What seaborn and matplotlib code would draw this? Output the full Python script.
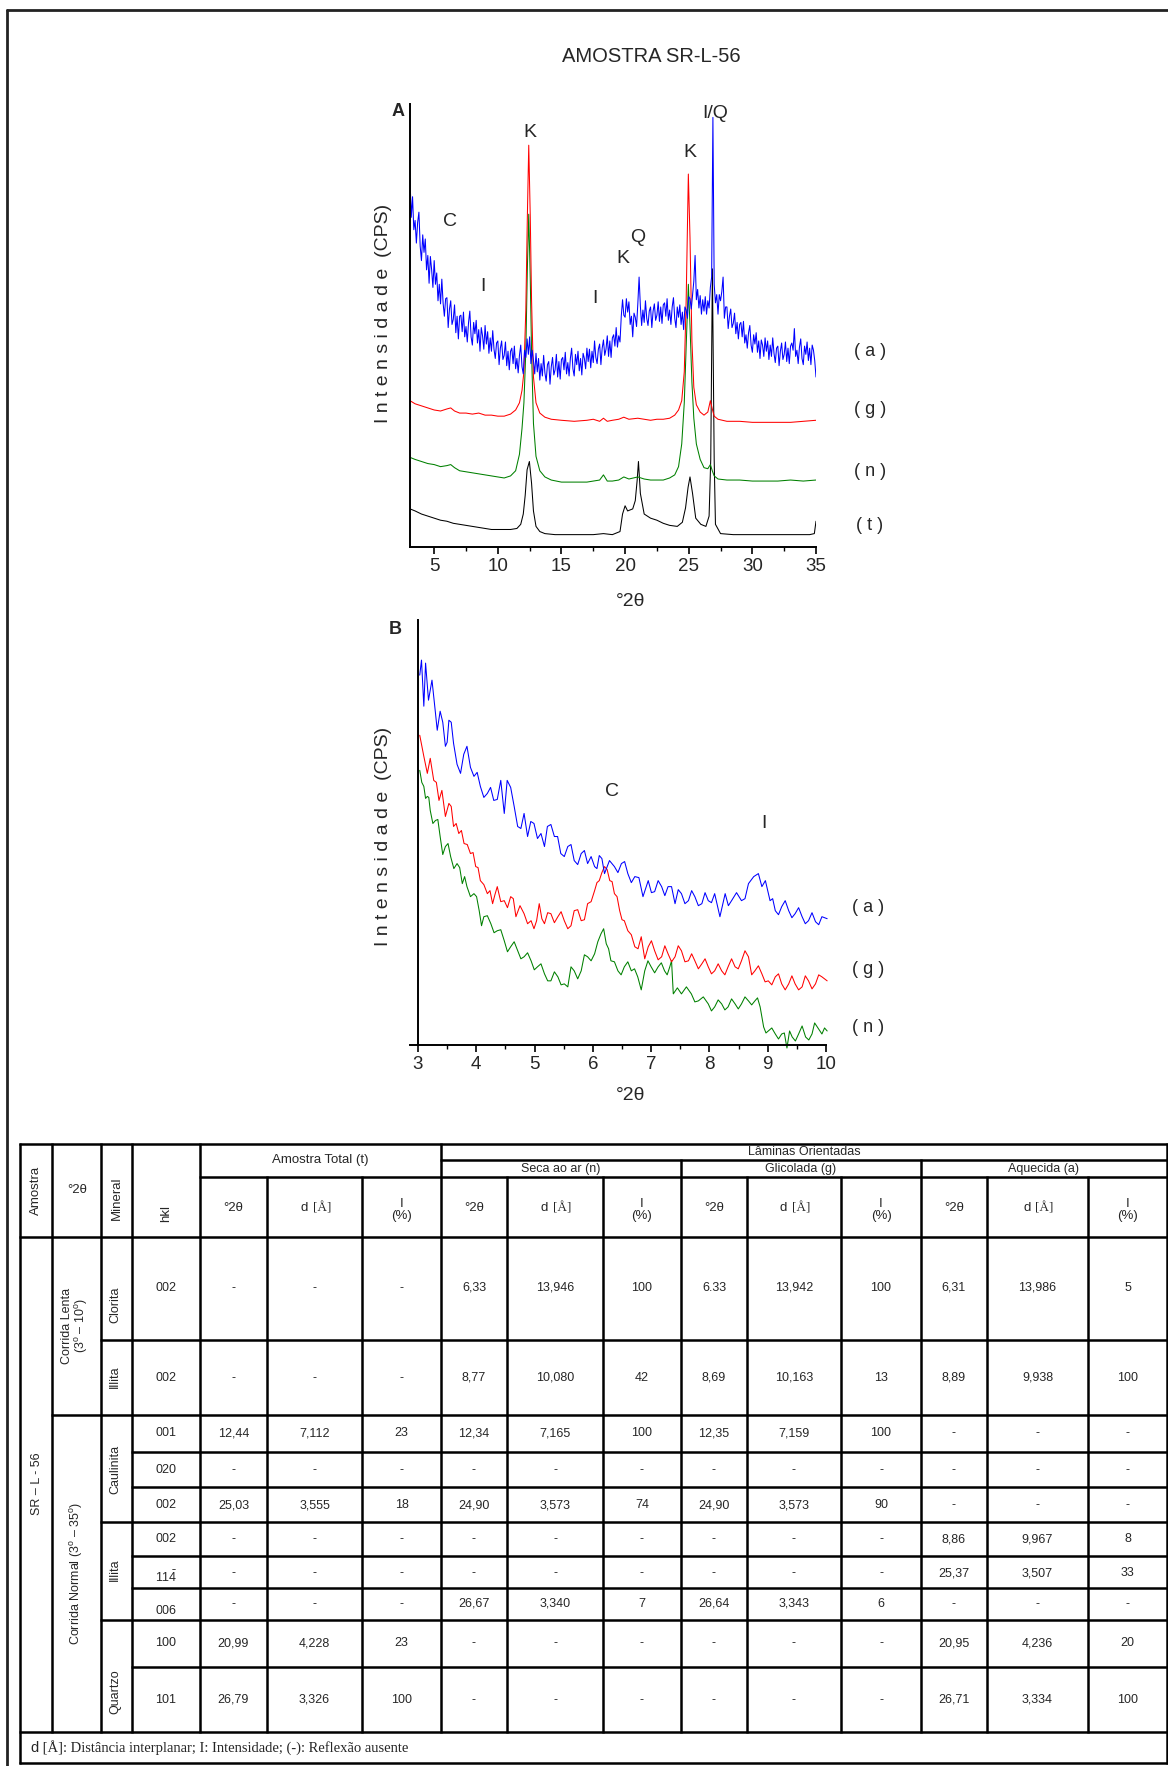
import numpy as np
import pandas as pd
import matplotlib
matplotlib.use("Agg")
import matplotlib.pyplot as plt
import seaborn as sns

# ---------------- DATA ----------------
# Panel A (3-35 deg 2theta) : t = amostra total, n = seca ao ar, g = glicolada, a = aquecida
theta_t_A = [3.1, 3.5, 4.0, 4.5, 5.0, 5.5, 6.0, 6.5, 7.0, 7.5, 8.0, 8.5, 9.0, 9.5, 10.0, 10.5, 11.0, 11.5, 11.8, 12.0,
             12.15, 12.3, 12.48, 12.65, 12.8, 13.0, 13.3, 13.7, 14.5, 15.5, 16.5, 17.5, 18.3, 19.0, 19.6, 19.8, 20.0, 20.2,
             20.4, 20.6, 20.8, 20.95, 21.05, 21.2, 21.5, 22.0, 22.5, 23.0, 23.5, 24.1, 24.5, 24.75, 24.95, 25.1, 25.3,
             25.55, 25.95, 26.35, 26.6, 26.73, 26.86, 27.0, 27.1, 27.5, 28.5, 29.5, 30.5, 31.5, 32.5, 33.5, 34.5, 34.87, 35.0]
int_t_A = [37, 35, 32, 30, 28, 26, 25, 23, 22, 21, 20, 19, 18, 17, 17, 17, 17, 18, 22, 32,
           50, 75, 83, 62, 35, 20, 15, 13, 12, 12, 12, 12, 13, 12, 15, 32, 40, 35, 36, 37,
           45, 65, 83, 52, 32, 28, 26, 23, 21, 20, 24, 38, 58, 68, 52, 28, 22, 20, 30, 85,
           270, 85, 22, 13, 12, 12, 12, 12, 12, 12, 12, 13, 25]

theta_ng_A = [3.1, 3.5, 4.0, 4.5, 5.0, 5.5, 6.0, 6.3, 6.6, 7.0, 7.5, 8.0, 8.5, 9.0, 9.5, 10.0, 10.5, 11.0, 11.4, 11.7,
              11.9, 12.05, 12.2, 12.32, 12.43, 12.55, 12.65, 12.8, 13.0, 13.3, 13.7, 14.2, 15.0, 16.0, 17.0, 17.5, 18.0,
              18.3, 18.6, 19.0, 19.5, 19.9, 20.3, 21.0, 21.5, 22.0, 22.5, 23.0, 23.5, 23.9, 24.2, 24.45, 24.65, 24.8,
              24.97, 25.1, 25.25, 25.4, 25.6, 25.9, 26.2, 26.5, 26.7, 26.85, 27.0, 27.3, 28.0, 29.0, 30.0, 31.0, 32.0,
              33.0, 34.0, 35.0]
int_n_A = [87, 85, 83, 81, 80, 78, 79, 80, 77, 74, 73, 72, 71, 70, 69, 68, 67, 69, 74, 90,
           115, 140, 190, 270, 323, 260, 190, 120, 88, 74, 68, 65, 63, 63, 63, 64, 65, 70, 64, 64,
           65, 68, 66, 68, 66, 65, 65, 65, 67, 70, 78, 100, 140, 195, 255, 215, 160, 125, 100, 85,
           77, 76, 80, 74, 69, 66, 65, 65, 64, 64, 64, 65, 64, 65]
int_g_A = [142, 139, 137, 135, 133, 132, 134, 135, 132, 130, 130, 129, 130, 128, 128, 127, 127, 129, 133, 140,
           152, 170, 230, 320, 390, 320, 240, 165, 140, 130, 126, 124, 123, 122, 123, 124, 122, 125, 122, 123,
           124, 126, 124, 125, 124, 123, 124, 124, 125, 128, 133, 142, 170, 240, 362, 300, 200, 155, 138, 131,
           128, 131, 142, 134, 127, 124, 122, 122, 121, 121, 121, 121, 122, 123]

# aquecida (a), read every 0.1 deg from 3.1 to 35.0
theta_a_A = np.round(np.linspace(3.1, 35.0, 320), 2)
int_a_A = [358, 320, 340, 308, 317, 295, 315, 325, 292, 278, 303, 286, 299, 269, 283, 256, 282, 269, 252, 278,
           255, 266, 239, 255, 236, 260, 237, 224, 241, 242, 213, 231, 239, 216, 221, 235, 208, 224, 202, 224,
           225, 209, 228, 204, 214, 199, 218, 229, 204, 196, 218, 207, 220, 198, 211, 190, 213, 205, 192, 215,
           197, 209, 188, 203, 190, 210, 192, 183, 198, 200, 177, 193, 200, 182, 186, 199, 176, 190, 172, 190,
           193, 178, 195, 173, 183, 169, 186, 196, 175, 168, 191, 184, 202, 187, 204, 178, 191, 181, 168, 188,
           170, 183, 162, 178, 166, 186, 169, 161, 177, 180, 158, 175, 184, 167, 172, 187, 165, 180, 163, 182,
           184, 172, 189, 168, 179, 166, 183, 193, 173, 166, 187, 177, 190, 171, 183, 167, 188, 183, 173, 193,
           180, 192, 174, 190, 179, 200, 184, 178, 192, 197, 177, 193, 201, 186, 192, 205, 185, 200, 184, 203,
           206, 195, 213, 194, 205, 199, 224, 240, 225, 223, 241, 228, 238, 216, 224, 204, 227, 223, 214, 236,
           262, 234, 215, 230, 218, 239, 222, 215, 229, 233, 213, 229, 236, 220, 225, 238, 219, 233, 217, 235,
           237, 224, 241, 220, 230, 216, 233, 242, 222, 213, 233, 223, 235, 216, 228, 211, 233, 230, 222, 243,
           241, 231, 245, 258, 283, 240, 250, 232, 244, 226, 240, 229, 243, 226, 239, 232, 252, 262, 417, 255,
           237, 245, 226, 245, 239, 248, 262, 222, 233, 233, 212, 224, 231, 213, 217, 227, 207, 218, 202, 216,
           218, 204, 219, 198, 206, 193, 208, 215, 196, 189, 206, 197, 208, 189, 200, 183, 201, 196, 185, 203,
           190, 200, 182, 196, 185, 203, 188, 179, 193, 195, 176, 190, 198, 182, 187, 199, 180, 193, 178, 195,
           198, 191, 212, 185, 191, 178, 194, 202, 183, 177, 195, 187, 199, 181, 193, 177, 196, 191, 181, 165]

# Panel B (3-10 deg 2theta, corrida lenta)
theta_a_B = [3.03, 3.06, 3.10, 3.13, 3.18, 3.24, 3.30, 3.33, 3.38, 3.425, 3.47, 3.50, 3.53, 3.57, 3.61, 3.67, 3.73,
             3.785, 3.84, 3.90, 3.96, 4.015, 4.07, 4.13, 4.19, 4.245, 4.30, 4.36, 4.42, 4.48, 4.53, 4.59, 4.65, 4.71,
             4.765, 4.82, 4.88, 4.935, 4.99, 5.05, 5.11, 5.17, 5.22, 5.28, 5.34, 5.395, 5.45, 5.51, 5.57, 5.625, 5.68,
             5.74, 5.80, 5.855, 5.91, 5.97, 6.03, 6.07, 6.11, 6.155, 6.20, 6.285, 6.37, 6.43, 6.49, 6.545, 6.60, 6.66,
             6.72, 6.79, 6.86, 6.95, 7.005, 7.06, 7.12, 7.18, 7.235, 7.29, 7.35, 7.41, 7.465, 7.52, 7.58, 7.64, 7.695,
             7.75, 7.81, 7.87, 7.925, 7.98, 8.035, 8.09, 8.18, 8.27, 8.325, 8.38, 8.465, 8.55, 8.61, 8.67, 8.76, 8.84,
             8.90, 8.96, 9.04, 9.085, 9.13, 9.185, 9.24, 9.30, 9.36, 9.415, 9.47, 9.53, 9.59, 9.645, 9.70, 9.76, 9.82,
             9.875, 9.93, 10.02]
int_a_B = [369, 384, 338, 381, 344, 364, 331, 314, 333, 322, 298, 302, 324, 322, 301, 280, 271, 290, 298, 277,
           268, 272, 258, 247, 251, 257, 244, 245, 264, 231, 264, 257, 238, 218, 216, 231, 208, 223, 221, 206,
           211, 198, 218, 220, 208, 208, 191, 188, 198, 200, 184, 180, 191, 194, 181, 188, 178, 176, 189, 186,
           171, 184, 178, 172, 181, 183, 171, 162, 168, 167, 148, 164, 152, 153, 164, 158, 149, 158, 158, 141,
           155, 151, 141, 144, 154, 148, 139, 141, 152, 144, 142, 151, 128, 151, 139, 144, 152, 144, 146, 161,
           168, 171, 158, 164, 144, 146, 134, 130, 138, 144, 134, 127, 131, 137, 128, 121, 124, 132, 123, 120,
           128, 126]
theta_g_B = [3.03, 3.10, 3.16, 3.21, 3.27, 3.315, 3.36, 3.41, 3.47, 3.53, 3.57, 3.61, 3.655, 3.70, 3.745, 3.79,
             3.845, 3.90, 3.945, 3.99, 4.03, 4.07, 4.13, 4.19, 4.235, 4.28, 4.32, 4.36, 4.42, 4.48, 4.535, 4.59, 4.635,
             4.68, 4.75, 4.82, 4.88, 4.94, 4.99, 5.035, 5.08, 5.125, 5.17, 5.225, 5.28, 5.34, 5.40, 5.455, 5.51, 5.57,
             5.625, 5.68, 5.74, 5.80, 5.855, 5.91, 5.97, 6.03, 6.07, 6.11, 6.155, 6.20, 6.245, 6.29, 6.33, 6.37, 6.415,
             6.46, 6.50, 6.54, 6.60, 6.66, 6.72, 6.775, 6.83, 6.89, 6.95, 7.005, 7.06, 7.12, 7.18, 7.235, 7.29, 7.35,
             7.41, 7.465, 7.52, 7.58, 7.64, 7.695, 7.75, 7.81, 7.87, 7.925, 7.98, 8.035, 8.09, 8.15, 8.21, 8.265, 8.32,
             8.38, 8.44, 8.495, 8.55, 8.61, 8.67, 8.725, 8.78, 8.84, 8.90, 8.955, 9.01, 9.07, 9.13, 9.185, 9.24, 9.30,
             9.36, 9.415, 9.47, 9.53, 9.59, 9.645, 9.70, 9.76, 9.82, 9.875, 9.93, 10.02]
int_g_B = [309, 288, 271, 286, 264, 262, 244, 254, 228, 241, 238, 218, 221, 211, 214, 201, 200, 191, 192, 178,
           177, 164, 160, 151, 154, 141, 150, 158, 143, 144, 137, 148, 146, 128, 139, 131, 121, 124, 116, 124,
           141, 126, 121, 132, 131, 122, 128, 133, 124, 116, 119, 134, 135, 124, 125, 141, 143, 154, 162, 164,
           172, 178, 175, 164, 163, 151, 148, 134, 125, 124, 114, 110, 98, 96, 108, 86, 98, 104, 94, 85,
           88, 99, 91, 83, 88, 99, 94, 83, 84, 91, 84, 76, 81, 86, 78, 71, 74, 81, 74, 70,
           78, 86, 78, 76, 84, 94, 88, 70, 74, 79, 71, 63, 64, 60, 68, 71, 61, 55, 61, 69,
           61, 55, 58, 69, 64, 56, 61, 70, 68, 64]
theta_n_B = [3.03, 3.065, 3.10, 3.13, 3.16, 3.185, 3.21, 3.255, 3.30, 3.34, 3.38, 3.425, 3.47, 3.515, 3.56, 3.615,
             3.67, 3.715, 3.76, 3.80, 3.84, 3.90, 3.96, 4.005, 4.05, 4.09, 4.13, 4.19, 4.25, 4.305, 4.36, 4.42, 4.48,
             4.535, 4.59, 4.65, 4.71, 4.765, 4.82, 4.88, 4.94, 4.995, 5.05, 5.11, 5.17, 5.225, 5.28, 5.34, 5.40, 5.455,
             5.51, 5.57, 5.625, 5.68, 5.74, 5.80, 5.855, 5.91, 5.97, 6.03, 6.085, 6.14, 6.185, 6.23, 6.27, 6.31, 6.37,
             6.43, 6.485, 6.54, 6.60, 6.66, 6.715, 6.77, 6.83, 6.89, 6.945, 7.00, 7.06, 7.12, 7.175, 7.23, 7.275, 7.32,
             7.35, 7.38, 7.45, 7.52, 7.605, 7.69, 7.75, 7.81, 7.895, 7.98, 8.035, 8.09, 8.15, 8.21, 8.265, 8.32, 8.38,
             8.44, 8.495, 8.55, 8.61, 8.67, 8.725, 8.78, 8.825, 8.87, 8.93, 8.97, 9.01, 9.07, 9.13, 9.185, 9.24, 9.285,
             9.33, 9.375, 9.42, 9.475, 9.53, 9.59, 9.65, 9.705, 9.76, 9.805, 9.85, 9.93, 9.975, 10.02]
int_n_B = [274, 262, 258, 246, 248, 247, 234, 221, 224, 225, 208, 190, 198, 201, 188, 176, 181, 177, 161, 168,
           158, 148, 151, 148, 134, 119, 128, 129, 121, 112, 114, 115, 104, 93, 98, 103, 94, 86, 88, 92,
           84, 75, 78, 81, 71, 64, 64, 73, 68, 60, 61, 58, 78, 74, 66, 74, 90, 88, 84, 91,
           103, 111, 116, 101, 96, 84, 83, 74, 70, 78, 83, 74, 76, 68, 55, 74, 84, 78, 72, 78,
           82, 74, 70, 78, 84, 51, 57, 51, 58, 51, 43, 44, 48, 41, 34, 38, 45, 41, 35, 38,
           46, 41, 36, 41, 48, 44, 40, 44, 47, 38, 18, 12, 14, 17, 11, 6, 11, 12, -3, 14,
           8, 4, 11, 19, 8, 5, 11, 22, 18, 11, 17, 14]

# peak annotations (label, 2theta, intensity)
peaks_A = [("K", 12.5, 402), ("I/Q", 27.08, 421), ("K", 25.1, 383), ("C", 6.26, 316), ("Q", 20.96, 300),
           ("K", 19.85, 280), ("I", 8.83, 253), ("I", 17.63, 241)]
peaks_B = [("C", 6.33, 253), ("I", 8.93, 221)]
curve_labels_A = ["( a )", "( g )", "( n )", "( t )"]
curve_labels_B = ["( a )", "( g )", "( n )"]
ticks_A = [5, 10, 15, 20, 25, 30, 35]
ticks_B = [3, 4, 5, 6, 7, 8, 9, 10]

# Table
hkl = ["002", "002", "001", "020", "002", "002", "11$\\bar{4}$", "006", "100", "101"]
t_2theta = ["-", "-", "12,44", "-", "25,03", "-", "-", "-", "20,99", "26,79"]
t_d = ["-", "-", "7,112", "-", "3,555", "-", "-", "-", "4,228", "3,326"]
t_I = ["-", "-", "23", "-", "18", "-", "-", "-", "23", "100"]
n_2theta = ["6,33", "8,77", "12,34", "-", "24,90", "-", "-", "26,67", "-", "-"]
n_d = ["13,946", "10,080", "7,165", "-", "3,573", "-", "-", "3,340", "-", "-"]
n_I = ["100", "42", "100", "-", "74", "-", "-", "7", "-", "-"]
g_2theta = ["6.33", "8,69", "12,35", "-", "24,90", "-", "-", "26,64", "-", "-"]
g_d = ["13,942", "10,163", "7,159", "-", "3,573", "-", "-", "3,343", "-", "-"]
g_I = ["100", "13", "100", "-", "90", "-", "-", "6", "-", "-"]
a_2theta = ["6,31", "8,89", "-", "-", "-", "8,86", "25,37", "-", "20,95", "26,71"]
a_d = ["13,986", "9,938", "-", "-", "-", "9,967", "3,507", "-", "4,236", "3,334"]
a_I = ["5", "100", "-", "-", "-", "8", "33", "-", "20", "100"]
minerals = ["Clorita", "Illita", "Caulinita", "Illita", "Quartzo"]
footnote = " [Å]: Distância interplanar; I: Intensidade; (-): Reflexão ausente"

# ---------------- STYLE ----------------
sns.set_theme(style="white")
plt.rcParams['font.family'] = ['Liberation Sans', 'DejaVu Sans']
plt.rcParams['mathtext.fontset'] = 'custom'
plt.rcParams['mathtext.rm'] = 'Liberation Sans'
plt.rcParams['mathtext.it'] = 'Liberation Sans'

W, H = 1168, 1766
fig = plt.figure(figsize=(W / 100, H / 100), dpi=100)
fig.patch.set_facecolor("white")


def rect(l, t, r, b):
    return [l / W, 1 - b / H, (r - l) / W, (b - t) / H]


ov = fig.add_axes([0, 0, 1, 1], zorder=0)
ov.set_xlim(0, W)
ov.set_ylim(H, 0)
ov.axis("off")

pal = {"t": "black", "n": "#008000", "g": "#ff0000", "a": "#0000ff"}


def make_df(parts):
    frames = []
    for nm, th, it in parts:
        n = min(len(th), len(it))
        frames.append(pd.DataFrame({"theta": list(th)[:n], "I": list(it)[:n], "amostra": nm}))
    return pd.concat(frames, ignore_index=True)


def style_axis(ax):
    for s in ["top", "right"]:
        ax.spines[s].set_visible(False)
    for s in ["left", "bottom"]:
        ax.spines[s].set_color("black")
        ax.spines[s].set_linewidth(1.4)
    ax.set_facecolor("none")
    ax.tick_params(axis="x", which="major", bottom=True, direction="out", length=5, width=1.2,
                   color="black", labelsize=13.5, pad=3)
    ax.tick_params(axis="x", which="minor", bottom=True, direction="out", length=3, width=1.0, color="black")
    ax.tick_params(axis="y", which="both", left=False, labelleft=False)
    ax.set_xlabel("")
    ax.set_ylabel("")


# ---------------- PANEL A ----------------
axA = fig.add_axes(rect(410, 104, 816, 547), zorder=2)
dfA = make_df([("t", theta_t_A, int_t_A), ("n", theta_ng_A, int_n_A),
               ("g", theta_ng_A, int_g_A), ("a", theta_a_A, int_a_A)])
sns.lineplot(data=dfA, x="theta", y="I", hue="amostra", hue_order=["t", "n", "g", "a"], palette=pal,
             estimator=None, sort=False, lw=0.75, legend=False, ax=axA)
axA.set_xlim(3.1, 35)
axA.set_ylim(0, 430)
axA.set_xticks(ticks_A)
axA.set_xticks([t + 2.5 for t in ticks_A[:-1]], minor=True)
style_axis(axA)
for lab, x, y in peaks_A:
    axA.text(x, y, lab, ha="center", va="center", fontsize=14)

# ---------------- PANEL B ----------------
axB = fig.add_axes(rect(410, 620, 826, 1045), zorder=2)
dfB = make_df([("n", theta_n_B, int_n_B), ("g", theta_g_B, int_g_B), ("a", theta_a_B, int_a_B)])
sns.lineplot(data=dfB, x="theta", y="I", hue="amostra", hue_order=["n", "g", "a"], palette=pal,
             estimator=None, sort=False, lw=0.75, legend=False, ax=axB)
axB.set_xlim(3 - 8 / 58.3, 10)
axB.set_ylim(0, 424)
axB.spines["left"].set_position(("data", 3))
axB.set_xticks(ticks_B)
axB.set_xticks([t + 0.5 for t in ticks_B[:-1]], minor=True)
style_axis(axB)
for ln in axB.lines:
    ln.set_clip_on(False)
for lab, x, y in peaks_B:
    axB.text(x, y, lab, ha="center", va="center", fontsize=14)

# ---------------- FIGURE TEXT ----------------
ov.plot([7, 7], [10, H], color="#222222", lw=2)
ov.plot([7, W], [10, 10], color="#222222", lw=2)
ov.text(651, 56, "AMOSTRA SR-L-56", ha="center", va="center", fontsize=14.5)
ov.text(398, 111, "A", ha="center", va="center", fontsize=13, fontweight="bold")
ov.text(395, 629, "B", ha="center", va="center", fontsize=13, fontweight="bold")
ylab = "I n t e n s i d a d e  (CPS)"
ov.text(383, 313, ylab, rotation=90, ha="center", va="center", fontsize=14)
ov.text(383, 836, ylab, rotation=90, ha="center", va="center", fontsize=14)
ov.text(631, 602, "°2θ", ha="center", va="center", fontsize=14)
ov.text(631, 1095, "°2θ", ha="center", va="center", fontsize=14)
for lab, y in zip(curve_labels_A, [351, 410, 472, 526]):
    ov.text(870, y, lab, ha="center", va="center", fontsize=13)
for lab, y in zip(curve_labels_B, [907, 970, 1028]):
    ov.text(868, y, lab, ha="center", va="center", fontsize=13)

# ---------------- TABLE ----------------
LW = 1.8
hlines = [(1144, 20, 1167), (1160, 441, 1167), (1177, 200, 1167), (1237, 20, 1167), (1340, 101, 1167),
          (1415, 52, 1167), (1452, 132, 1167), (1487, 132, 1167), (1522, 101, 1167), (1556, 132, 1167),
          (1588, 132, 1167), (1620, 101, 1167), (1667, 132, 1167), (1732, 20, 1167), (1763, 20, 1167)]
vlines = [(20, 1144, 1763), (52, 1144, 1732), (101, 1144, 1732), (132, 1144, 1732), (200, 1144, 1732),
          (267, 1177, 1732), (362, 1177, 1732), (441, 1144, 1732), (507, 1177, 1732), (603, 1177, 1732),
          (681, 1160, 1732), (747, 1177, 1732), (841, 1177, 1732), (921, 1160, 1732), (987, 1177, 1732),
          (1088, 1177, 1732), (1167, 1144, 1763)]
for y, x0, x1 in hlines:
    ov.plot([x0 - 0.9, x1 + 0.9], [y, y], color="black", lw=LW, solid_capstyle="butt")
for x, y0, y1 in vlines:
    ov.plot([x, x], [y0 - 0.9, y1 + 0.9], color="black", lw=LW, solid_capstyle="butt")

FS = 9
# header
ov.text(36, 1190, "Amostra", rotation=90, ha="center", va="center", fontsize=FS + 0.5)
ov.text(77, 1190, "°2θ", ha="center", va="center", fontsize=FS + 0.5)
ov.text(117, 1198, "Mineral", rotation=90, ha="center", va="center", fontsize=FS + 0.5)
ov.text(166, 1213, "hkl", rotation=90, ha="center", va="center", fontsize=FS + 0.5)
ov.text(320, 1160, "Amostra Total (t)", ha="center", va="center", fontsize=FS + 0.5)
ov.text(804, 1152, "Lâminas Orientadas", ha="center", va="center", fontsize=FS)
for lab, xc in [("Seca ao ar (n)", 561), ("Glicolada (g)", 801), ("Aquecida (a)", 1044)]:
    ov.text(xc, 1169, lab, ha="center", va="center", fontsize=FS)
col_centers = [233.5, 314.5, 401.5, 474, 555, 642, 714, 794, 881, 954, 1037.5, 1127.5]
for i, xc in enumerate(col_centers):
    kind = i % 3
    if kind == 0:
        ov.text(xc, 1208, "°2θ", ha="center", va="center", fontsize=FS + 0.5)
    elif kind == 1:
        ov.text(xc - 7, 1208, "d", ha="right", va="center", fontsize=FS + 0.5)
        ov.text(xc - 2, 1208, "[Å]", ha="left", va="center", fontsize=FS + 0.5,
                family=["Liberation Serif", "DejaVu Serif"])
    else:
        ov.text(xc, 1210, "I\n(%)", ha="center", va="center", fontsize=FS + 0.5, linespacing=1.0)

# left merged cells
ov.text(37, 1484, "SR – L - 56", rotation=90, ha="center", va="center", fontsize=FS)
ov.text(76, 1326, "Corrida Lenta\n(3$^{\\rm o}$ – 10$^{\\rm o}$)", rotation=90, ha="center", va="center",
        fontsize=FS, linespacing=1.0)
ov.text(77, 1573, "Corrida Normal (3$^{\\rm o}$ – 35$^{\\rm o}$)", rotation=90, ha="center", va="center",
        fontsize=FS)
for lab, yc in zip(minerals, [1305, 1377, 1469, 1570, 1692]):
    ov.text(115, yc, lab, rotation=90, ha="center", va="center", fontsize=FS)

row_y = [1288, 1378, 1433, 1470, 1505, 1539, 1573, 1604, 1643, 1700]
hkl_y = [1288, 1378, 1433, 1470, 1505, 1539, 1577, 1611, 1643, 1700]
for lab, yc in zip(hkl, hkl_y):
    ov.text(166, yc, lab, ha="center", va="center", fontsize=FS)
cols = [t_2theta, t_d, t_I, n_2theta, n_d, n_I, g_2theta, g_d, g_I, a_2theta, a_d, a_I]
for xc, col in zip(col_centers, cols):
    for val, yc in zip(col, row_y):
        ov.text(xc, yc, val, ha="center", va="center", fontsize=FS)

ov.text(30, 1748, "d", ha="left", va="center", fontsize=10.5)
ov.text(39, 1748, footnote, ha="left", va="center", fontsize=10.5, family=["Liberation Serif", "DejaVu Serif"])

fig.savefig("out.png", dpi=100, facecolor="white")
